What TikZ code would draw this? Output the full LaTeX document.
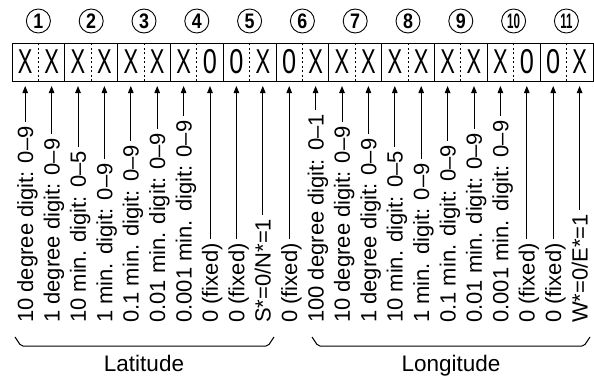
\documentclass[tikz,border=0pt]{standalone}
\usepackage{fontspec}
\setmainfont{Liberation Sans}
\usetikzlibrary{arrows.meta}
\begin{document}
\begin{tikzpicture}[x=1pt,y=1pt,
  lab/.style={rotate=90,anchor=west,inner sep=0pt,font=\fontsize{22}{24}\selectfont,text height=15.8pt,text depth=0pt},
  cellch/.style={inner sep=0pt,font=\fontsize{23}{26}\selectfont},
  numc/.style={circle,draw,line width=0.9pt,minimum size=24pt,inner sep=0pt,font=\fontsize{21}{23}\selectfont\bfseries},
  arr/.style={line width=1pt,-{Triangle[length=7pt,width=5.5pt]}},
  frame/.style={line width=1pt},
  dotline/.style={line width=0.9pt,dash pattern=on 2pt off 2.5pt},
  bracepath/.style={line width=1pt,rounded corners=2pt},
  grp/.style={font=\fontsize{22.5}{25}\selectfont,anchor=base}
]
\useasboundingbox (0,0) rectangle (594,376);
\def\cw{26.4}
% register frame
\draw[frame] (12,295) rectangle (593,333);
\foreach \k in {1,...,10} \draw[frame] (12+2*\k*\cw,295) -- (12+2*\k*\cw,333);
\foreach \k in {0,...,10} \draw[dotline] (12+2*\k*\cw+\cw,295) -- (12+2*\k*\cw+\cw,333);
% cell characters
\foreach \ch/\sc [count=\i] in {X/0.95,X/0.95,X/0.95,X/0.95,X/0.95,X/0.95,X/0.95,0/1.1,0/1.1,X/0.95,0/1.1,X/0.95,X/0.95,X/0.95,X/0.95,X/0.95,X/0.95,X/0.95,X/0.95,0/1.1,0/1.1,X/0.95}
  \node[cellch] (c\i) at (12+\i*\cw-\cw/2,314) {\scalebox{\sc}[1.5]{\ch}};
% circled numbers
\foreach \n in {1,...,9}
  \node[numc] (n\n) at (12+2*\n*\cw-\cw,355) {\scalebox{0.85}[1]{\n}};
\foreach \n in {10,11}
  \node[numc] (n\n) at (12+2*\n*\cw-\cw,355) {\scalebox{0.55}[1]{\n}};
% labels and arrows
\foreach \t [count=\i] in {{10 degree digit: 0–9},{1 degree digit: 0–9},{10 min. digit: 0–5},{1 min. digit: 0–9},{0.1 min. digit: 0–9},{0.01 min. digit: 0–9},{0.001 min. digit: 0–9},{0 (fixed)},{0 (fixed)},{S*=0/N*=1},{0 (fixed)},{100 degree digit: 0–1},{10 degree digit: 0–9},{1 degree digit: 0–9},{10 min. digit: 0–5},{1 min. digit: 0–9},{0.1 min. digit: 0–9},{0.01 min. digit: 0–9},{0.001 min. digit: 0–9},{0 (fixed)},{0 (fixed)},{W*=0/E*=1}}
{
  \node[lab] (t\i) at (12+\i*\cw-\cw/2,53) {\t};
  \coordinate (b\i) at (12+\i*\cw-\cw/2,290);
  \draw[arr] ([yshift=4pt]t\i.east) -- (b\i);
}
% group braces
\draw[bracepath] (15,39) -- (21,30) -- (268,30) -- (274,39);
\draw[bracepath] (312,39) -- (318,30) -- (584,30) -- (590,39);
\node[grp] (lat) at (144,4.5) {Latitude};
\node[grp] (lon) at (451,4.5) {Longitude};
\end{tikzpicture}
\end{document}
